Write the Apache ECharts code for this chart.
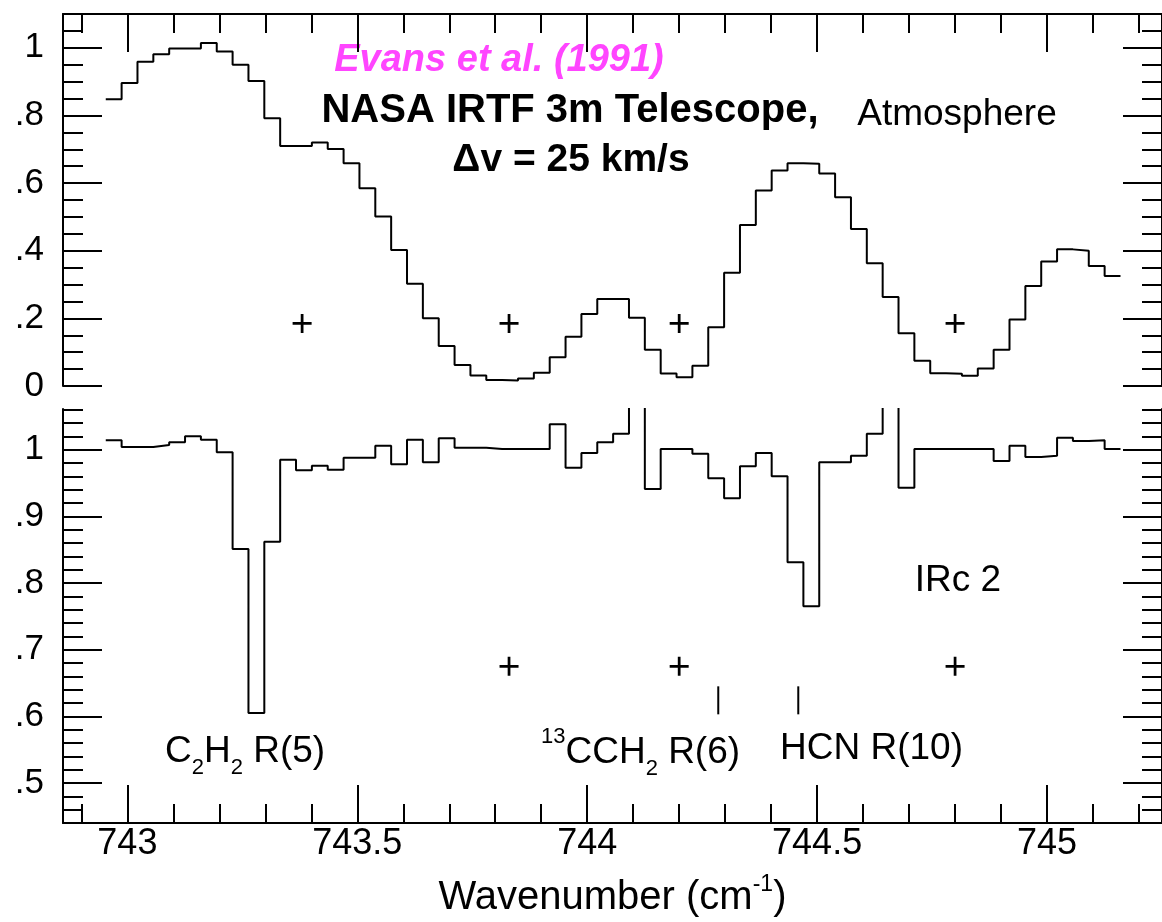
<!DOCTYPE html>
<html>
<head>
<meta charset="utf-8">
<script src="https://cdn.jsdelivr.net/npm/echarts@6/dist/echarts.min.js"></script>
<style>
html,body{margin:0;padding:0;background:#fff;}
#chart{width:1162px;height:922px;}
</style>
</head>
<body>
<div id="chart"></div>
<script>
// ---- data ----
const binStart = 742.953;      // wavenumber of first spectral bin edge (cm^-1)
const binWidth = 0.03448;      // spectral bin width (cm^-1)

const atmosphere = [
  0.848, 0.896, 0.959, 0.981, 0.998, 0.998, 1.014, 0.989, 0.950, 0.902,
  0.792, 0.710, 0.710, 0.720, 0.701, 0.659, 0.585, 0.501, 0.402, 0.302,
  0.200, 0.118, 0.062, 0.031, 0.018, 0.016, 0.022, 0.039, 0.085, 0.146,
  0.213, 0.257, 0.257, 0.202, 0.107, 0.037, 0.026, 0.060, 0.174, 0.335,
  0.476, 0.578, 0.637, 0.659, 0.657, 0.628, 0.558, 0.464, 0.363, 0.263,
  0.156, 0.075, 0.038, 0.036, 0.030, 0.052, 0.107, 0.197, 0.296, 0.368,
  0.404, 0.400, 0.355, 0.325
];

const irc2 = [
  1.014, 1.004, 1.004, 1.007, 1.011, 1.020, 1.015, 0.996, 0.851, 0.605,
  0.862, 0.985, 0.969, 0.976, 0.970, 0.988, 0.988, 1.006, 0.978, 1.015,
  0.981, 1.017, 1.003, 1.003, 1.001, 1.001, 1.001, 1.001, 1.038, 0.973,
  0.995, 1.011, 1.024, 1.150, 0.941, 1.001, 1.001, 0.994, 0.957, 0.927,
  0.975, 0.995, 0.960, 0.831, 0.765, 0.981, 0.981, 0.991, 1.024, 1.150,
  0.943, 1.001, 1.001, 1.001, 1.001, 1.001, 0.983, 1.006, 0.989, 0.991,
  1.018, 1.013, 1.014, 1.001
];

const xTickValues = [743, 743.5, 744, 744.5, 745];
const xTickLabels = ['743', '743.5', '744', '744.5', '745'];
const topYTickValues = [0, 0.2, 0.4, 0.6, 0.8, 1];
const topYTickLabels = ['0', '.2', '.4', '.6', '.8', '1'];
const botYTickValues = [0.5, 0.6, 0.7, 0.8, 0.9, 1];
const botYTickLabels = ['.5', '.6', '.7', '.8', '.9', '1'];

const plusTopX = [743.38, 743.83, 744.20, 744.80];
const plusTopY = [0.185, 0.185, 0.185, 0.185];
const plusBotX = [743.83, 744.20, 744.80];
const plusBotY = [0.675, 0.675, 0.675];

const lineMarkX = [744.285, 744.459];
const lineMarkY = [0.603, 0.645];

// ---- helpers ----
function stepData(vals) {
  const d = vals.map((v, i) => [binStart + i * binWidth, v]);
  d.push([binStart + vals.length * binWidth, vals[vals.length - 1]]);
  return d;
}
function lookup(values, labels) {
  return function (v) {
    const i = values.findIndex(t => Math.abs(t - v) < 1e-6);
    return i >= 0 ? labels[i] : '';
  };
}

const FONT = '"Liberation Sans", Arial, Helvetica, sans-serif';
const BLACK = '#000';
const PLUS = 'path://M-1.3,-9 L1.3,-9 L1.3,-1.3 L9,-1.3 L9,1.3 L1.3,1.3 L1.3,9 L-1.3,9 L-1.3,1.3 L-9,1.3 L-9,-1.3 L-1.3,-1.3 Z';

function xAxisDef(grid, pos, withLabels) {
  const a = {
    gridIndex: grid, type: 'value', position: pos,
    min: 742.86, max: 745.25,
    axisLine: { show: true, onZero: false, lineStyle: { color: BLACK, width: 2 } },
    axisTick: { show: true, inside: true, length: 38, customValues: xTickValues,
                lineStyle: { color: BLACK, width: 2 } },
    minorTick: { show: true, splitNumber: 5, length: 19, lineStyle: { color: BLACK, width: 2 } },
    splitLine: { show: false }, minorSplitLine: { show: false },
    axisLabel: { show: false }
  };
  if (withLabels) {
    a.axisLabel = { show: true, customValues: xTickValues, formatter: lookup(xTickValues, xTickLabels),
                    fontSize: 36, fontFamily: FONT, color: BLACK, margin: 3 };
    a.name = 'Wavenumber (cm{sup|-1})';
    a.nameLocation = 'middle';
    a.nameGap = 50;
    a.nameTextStyle = { fontSize: 40, fontFamily: FONT, color: BLACK,
      rich: { sup: { fontSize: 23, fontFamily: FONT, color: BLACK, verticalAlign: 'top', padding: [0, 0, 26, 0] } } };
  }
  return a;
}
function yAxisDef(grid, pos, min, max, tickVals, tickLabels, minorSplit, interval) {
  const a = {
    gridIndex: grid, type: 'value', position: pos, min: min, max: max,
    axisLine: { show: true, onZero: false, lineStyle: { color: BLACK, width: 2 } },
    axisTick: { show: true, inside: true, length: 39, customValues: tickVals,
                lineStyle: { color: BLACK, width: 2 } },
    minorTick: { show: true, splitNumber: minorSplit, length: 20, lineStyle: { color: BLACK, width: 2 } },
    splitLine: { show: false }, minorSplitLine: { show: false },
    axisLabel: { show: false }
  };
  if (interval) a.interval = interval;
  if (pos === 'left') {
    a.axisLabel = { show: true, customValues: tickVals, formatter: lookup(tickVals, tickLabels),
                    fontSize: 35, fontFamily: FONT, color: BLACK, margin: 19 };
  }
  return a;
}

const chart = echarts.init(document.getElementById('chart'), null, { renderer: 'canvas' });

const option = {
  animation: false,
  backgroundColor: '#fff',
  grid: [
    { left: 63, right: -5, top: 14, height: 372 },
    { left: 63, right: -5, top: 409, height: 414 }
  ],
  xAxis: [
    xAxisDef(0, 'top', false),
    xAxisDef(1, 'bottom', true)
  ],
  yAxis: [
    yAxisDef(0, 'left', 0, 1.1, topYTickValues, topYTickLabels, 4, 0.2),
    yAxisDef(0, 'right', 0, 1.1, topYTickValues, topYTickLabels, 4, 0.2),
    yAxisDef(1, 'left', 0.44, 1.061, botYTickValues, botYTickLabels, 5, null),
    yAxisDef(1, 'right', 0.44, 1.061, botYTickValues, botYTickLabels, 5, null)
  ],
  series: [
    { type: 'line', name: 'Atmosphere', xAxisIndex: 0, yAxisIndex: 0, step: 'end',
      data: stepData(atmosphere), showSymbol: false, symbol: 'none', clip: true,
      lineStyle: { color: BLACK, width: 2 } },
    { type: 'line', name: 'IRc 2', xAxisIndex: 1, yAxisIndex: 2, step: 'end',
      data: stepData(irc2), showSymbol: false, symbol: 'none', clip: true,
      lineStyle: { color: BLACK, width: 2 } },
    { type: 'scatter', xAxisIndex: 0, yAxisIndex: 0, symbol: PLUS, symbolSize: 19,
      data: plusTopX.map((x, i) => [x, plusTopY[i]]), itemStyle: { color: BLACK, opacity: 1 } },
    { type: 'scatter', xAxisIndex: 1, yAxisIndex: 2, symbol: PLUS, symbolSize: 19,
      data: plusBotX.map((x, i) => [x, plusBotY[i]]), itemStyle: { color: BLACK, opacity: 1 } }
  ].concat(lineMarkX.map(x => ({
      type: 'line', xAxisIndex: 1, yAxisIndex: 2, symbol: 'none', showSymbol: false,
      data: lineMarkY.map(y => [x, y]), lineStyle: { color: BLACK, width: 2 }
  }))),
  graphic: [
    { type: 'text', x: 499, y: 61, style: { text: 'Evans et al. (1991)', fill: '#ff45ff',
        font: 'italic bold 38px ' + FONT, align: 'center', verticalAlign: 'middle',
        textAlign: 'center', textVerticalAlign: 'middle' } },
    { type: 'text', x: 570, y: 111, style: { text: 'NASA IRTF 3m Telescope,', fill: BLACK,
        font: 'bold 40px ' + FONT, align: 'center', verticalAlign: 'middle',
        textAlign: 'center', textVerticalAlign: 'middle' } },
    { type: 'text', x: 571, y: 160, style: { text: '\u0394v = 25 km/s', fill: BLACK,
        font: 'bold 39px ' + FONT, align: 'center', verticalAlign: 'middle',
        textAlign: 'center', textVerticalAlign: 'middle' } },
    { type: 'text', x: 957, y: 115, style: { text: 'Atmosphere', fill: BLACK,
        font: '37px ' + FONT, align: 'center', verticalAlign: 'middle',
        textAlign: 'center', textVerticalAlign: 'middle' } },
    { type: 'text', x: 958, y: 581, style: { text: 'IRc 2', fill: BLACK,
        font: '37px ' + FONT, align: 'center', verticalAlign: 'middle',
        textAlign: 'center', textVerticalAlign: 'middle' } },
    { type: 'text', x: 165, y: 752, style: { text: 'C{s|2}H{s|2} R(5)', fill: BLACK,
        font: '37px ' + FONT, align: 'left', verticalAlign: 'middle',
        textAlign: 'left', textVerticalAlign: 'middle',
        rich: { s: { fontSize: 22, fontFamily: FONT, fill: BLACK, color: BLACK, verticalAlign: 'bottom', padding: [32, 0, 0, 0] } } } },
    { type: 'text', x: 541, y: 753, style: { text: '{u|13}CCH{s|2} R(6)', fill: BLACK,
        font: '37px ' + FONT, align: 'left', verticalAlign: 'middle',
        textAlign: 'left', textVerticalAlign: 'middle',
        rich: { s: { fontSize: 22, fontFamily: FONT, fill: BLACK, color: BLACK, verticalAlign: 'bottom', padding: [32, 0, 0, 0] },
                u: { fontSize: 22, fontFamily: FONT, fill: BLACK, color: BLACK, verticalAlign: 'top', padding: [0, 0, 32, 0] } } } },
    { type: 'text', x: 780, y: 749, style: { text: 'HCN R(10)', fill: BLACK,
        font: '37px ' + FONT, align: 'left', verticalAlign: 'middle',
        textAlign: 'left', textVerticalAlign: 'middle' } }
  ]
};
chart.setOption(option);
</script>
</body>
</html>
